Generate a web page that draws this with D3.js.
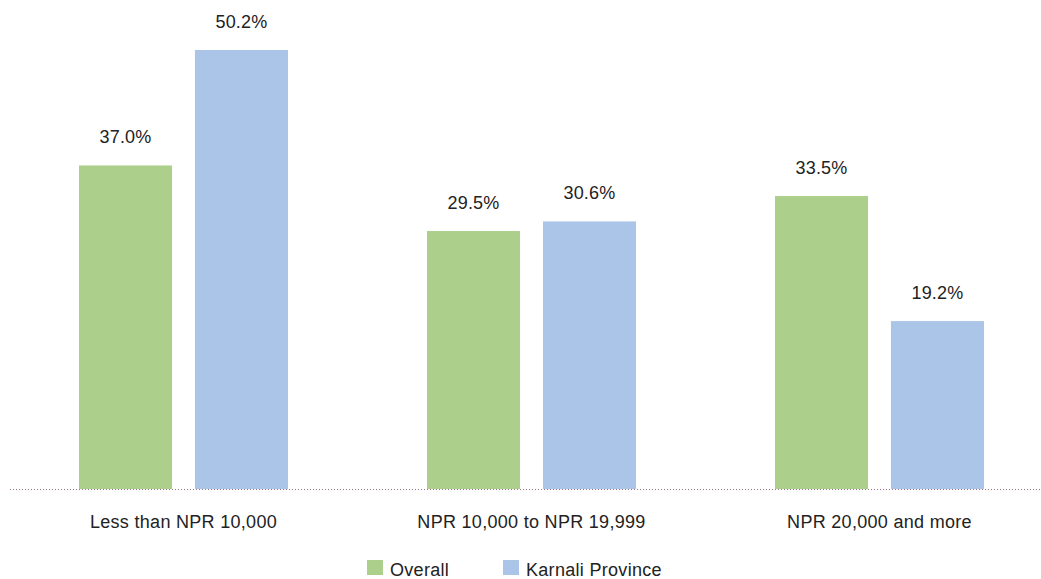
<!DOCTYPE html>
<html>
<head>
<meta charset="utf-8">
<script src="https://cdn.jsdelivr.net/npm/d3@7"></script>
<style>
  html, body { margin: 0; padding: 0; background: #fff; }
  svg text { font-family: "Liberation Sans", Arial, sans-serif; fill: #222; }
</style>
</head>
<body>
<svg id="chart" width="1041" height="579"></svg>
<script>
// Monthly household income distribution
const categories = ["Less than NPR 10,000", "NPR 10,000 to NPR 19,999", "NPR 20,000 and more"];
const seriesNames = ["Overall", "Karnali Province"];
const overall = [37.0, 29.5, 33.5];
const karnali = [50.2, 30.6, 19.2];
const colors = ["#acd08c", "#abc5e8"];

const svg = d3.select("#chart");
const baseY = 489;
const topY = 50;

const x0 = d3.scaleBand()
  .domain(categories)
  .range([9.5, 1053.5])
  .paddingInner(0)
  .paddingOuter(0);

const x1 = d3.scaleBand()
  .domain(seriesNames)
  .range([69.5, 348 - 69.5])
  .paddingInner(23 / 116.5)
  .paddingOuter(0);

const y = d3.scaleLinear()
  .domain([0, 50.2])
  .range([baseY, topY]);

const rows = categories.map((c, i) => ({
  category: c,
  values: [
    { name: seriesNames[0], value: overall[i], color: colors[0] },
    { name: seriesNames[1], value: karnali[i], color: colors[1] }
  ]
}));

const groups = svg.selectAll("g.group")
  .data(rows)
  .join("g")
  .attr("class", "group")
  .attr("transform", d => `translate(${x0(d.category)},0)`);

groups.selectAll("rect")
  .data(d => d.values)
  .join("rect")
  .attr("x", d => x1(d.name))
  .attr("width", x1.bandwidth())
  .attr("y", d => y(d.value))
  .attr("height", d => baseY - y(d.value))
  .attr("fill", d => d.color);

groups.selectAll("text.val")
  .data(d => d.values)
  .join("text")
  .attr("class", "val")
  .attr("x", d => x1(d.name) + x1.bandwidth() / 2)
  .attr("y", d => y(d.value) - 22)
  .attr("text-anchor", "middle")
  .attr("font-size", 18)
  .style("letter-spacing", "0.2px")
  .text(d => d.value.toFixed(1) + "%");

// Baseline (dotted)
svg.append("line")
  .attr("x1", 10).attr("x2", 1041)
  .attr("y1", baseY + 0.5).attr("y2", baseY + 0.5)
  .attr("stroke", "#9b7085")
  .attr("stroke-width", 1)
  .attr("stroke-dasharray", "1,2");

// Category axis labels
const xAxis = d3.axisBottom(x0).tickSize(0).tickPadding(0);
const axisG = svg.append("g")
  .attr("transform", `translate(0,${baseY})`)
  .call(xAxis);
axisG.select(".domain").remove();
axisG.selectAll("text")
  .attr("y", 39)
  .attr("dy", 0)
  .attr("font-size", 18)
  .style("letter-spacing", "0.3px")
  .style("font-family", '"Liberation Sans", Arial, sans-serif')
  .attr("fill", "#222");

// Legend
const legendItems = [
  { name: seriesNames[0], color: colors[0], x: 367 },
  { name: seriesNames[1], color: colors[1], x: 503 }
];
const lg = svg.append("g").selectAll("g")
  .data(legendItems)
  .join("g")
  .attr("transform", d => `translate(${d.x},560)`);
lg.append("rect").attr("width", 16).attr("height", 15).attr("fill", d => d.color);
lg.append("text")
  .attr("x", 23).attr("y", 16)
  .attr("font-size", 18)
  .style("letter-spacing", "0.3px")
  .text(d => d.name);
</script>
</body>
</html>
